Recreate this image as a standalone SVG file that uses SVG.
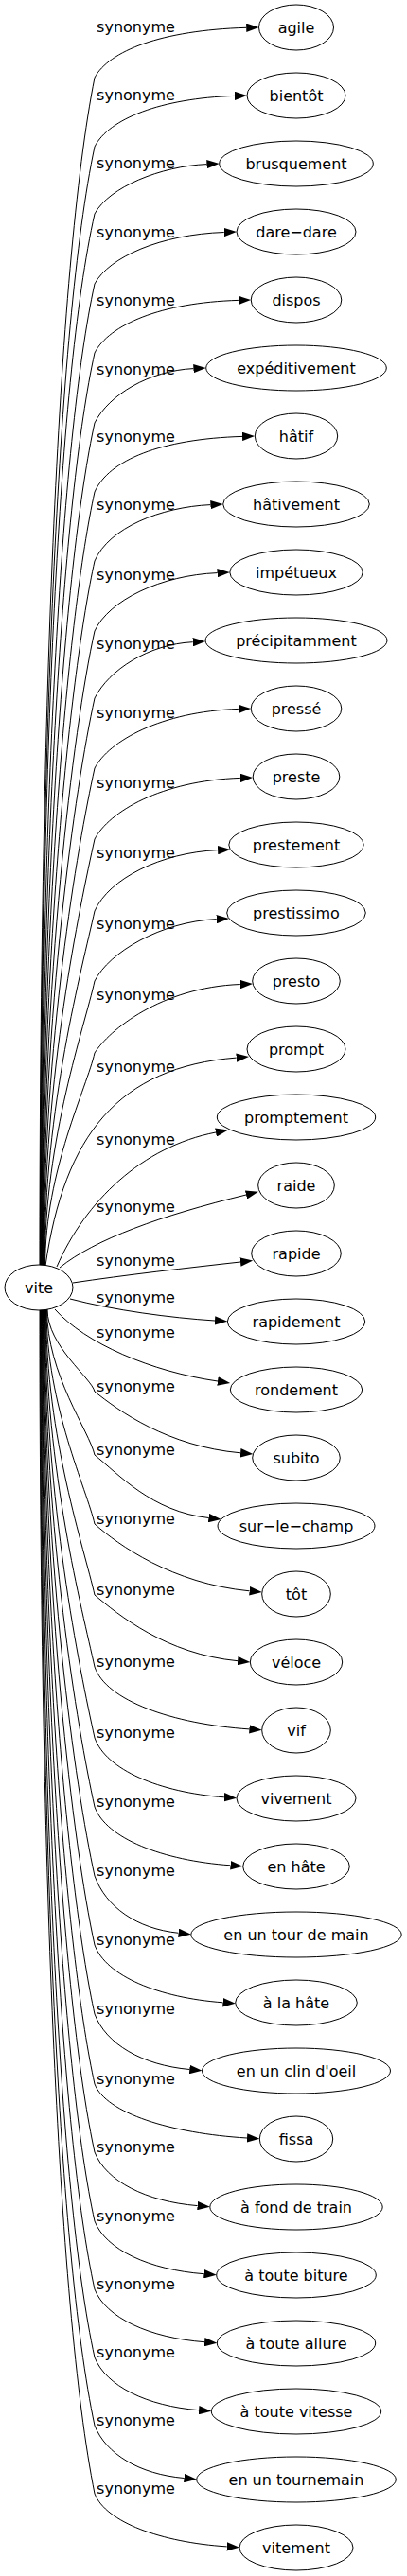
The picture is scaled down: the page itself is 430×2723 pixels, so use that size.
<svg xmlns="http://www.w3.org/2000/svg" width="430" height="2723" viewBox="0 0 430 2723">
<style>
text{font-family:"DejaVu Sans","Liberation Sans",sans-serif;font-size:16px;fill:#000}
.n text{text-anchor:middle}
.n ellipse{fill:#fff;stroke:#000;stroke-width:1}
.e path{fill:none;stroke:#000;stroke-width:1;marker-end:url(#ah)}
.e text{text-anchor:middle}
</style>
<defs>
<marker id="ah" markerUnits="userSpaceOnUse" viewBox="0 0 13.3 9.4" markerWidth="13.3" markerHeight="9.4" refX="0" refY="4.7" orient="auto"><path d="M0,0 L13.3,4.7 L0,9.4 z" fill="#000"/></marker>
</defs>
<rect width="430" height="2723" fill="#fff"/>
<g id="edges">
<g class="e" id="e0"><path d="M42,1338 C42,773 60,283 100,82 C115,54 170,32 260.2,29.3"/><text x="143.5" y="34">synonyme</text></g>
<g class="e" id="e1"><path d="M42.4,1338 C42.4,806 60,344 100,155 C115,125.5 170,104 247.7,101.4"/><text x="143.5" y="106">synonyme</text></g>
<g class="e" id="e2"><path d="M42.8,1338 C42.8,838 60,404 100,226 C115,197.8 170,175.7 218.4,173.6"/><text x="143.5" y="178">synonyme</text></g>
<g class="e" id="e3"><path d="M43.2,1338 C43.2,871 63.7,466 100,300 C115,271.8 170,247.8 236.7,245.5"/><text x="143.5" y="251">synonyme</text></g>
<g class="e" id="e4"><path d="M43.6,1338 C43.6,904 66.2,527 100,373 C115,343.4 170,319.8 251.9,317.4"/><text x="143.5" y="323">synonyme</text></g>
<g class="e" id="e5"><path d="M44,1338 C44,937 68.8,590 100,447 C115,417.2 157.7,391.9 204.4,389.6"/><text x="143.5" y="396">synonyme</text></g>
<g class="e" id="e6"><path d="M44.4,1338 C44.4,970 71.4,651 100,520 C115,486.2 170,464 256,461.4"/><text x="143.5" y="467">synonyme</text></g>
<g class="e" id="e7"><path d="M44.8,1338 C44.8,1003 73.9,712 100,593 C115,557.8 170,536 222.4,533.6"/><text x="143.5" y="539">synonyme</text></g>
<g class="e" id="e8"><path d="M45.2,1338 C45.2,1036 76.5,774 100,667 C115,634.4 170,608.1 229.5,605.6"/><text x="143.5" y="613">synonyme</text></g>
<g class="e" id="e9"><path d="M45.6,1338 C45.6,1068 79,834 100,738 C115,708.1 157,681 203.7,678.7"/><text x="143.5" y="686">synonyme</text></g>
<g class="e" id="e10"><path d="M46,1338 C46,1101 81.6,896 100,812 C115,783.4 170,752.2 251.9,749.4"/><text x="143.5" y="759">synonyme</text></g>
<g class="e" id="e11"><path d="M46.4,1338 C46.4,1135 84.2,959 100,887 C115,858.3 170,825.3 253.9,822.4"/><text x="143.5" y="833">synonyme</text></g>
<g class="e" id="e12"><path d="M46.8,1338 C46.8,1169 86.9,1023 100,963 C115,928.9 170,901.3 230.1,898.6"/><text x="143.5" y="907">synonyme</text></g>
<g class="e" id="e13"><path d="M47.2,1338 C47.2,1203 89.5,1085 100,1037 C115,1006.8 170,974.3 228.7,971.6"/><text x="143.5" y="982">synonyme</text></g>
<g class="e" id="e14"><path d="M47.6,1338 C47.6,1237 92.1,1149 100,1113 C115,1089.2 170,1043.7 253.8,1040.5"/><text x="143.5" y="1057">synonyme</text></g>
<g class="e" id="e15"><path d="M48,1338 C68,1200 125,1128 249.7,1118.1"/><text x="143.5" y="1133">synonyme</text></g>
<g class="e" id="e16"><path d="M60,1339 C90,1270 150,1212 228,1197"/><text x="143.5" y="1210">synonyme</text></g>
<g class="e" id="e17"><path d="M63,1340 C100,1310 170,1285 260,1263"/><text x="143.5" y="1281">synonyme</text></g>
<g class="e" id="e18"><path d="M77,1356 C130,1348 200,1340 254,1334"/><text x="143.5" y="1338">synonyme</text></g>
<g class="e" id="e19"><path d="M74,1373 C120,1385 180,1393 227,1396"/><text x="143.5" y="1377">synonyme</text></g>
<g class="e" id="e20"><path d="M58,1384 C90,1420 160,1450 230,1460"/><text x="143.5" y="1414">synonyme</text></g>
<g class="e" id="e21"><path d="M50,1384 C50,1423 97,1457 100,1471 C125,1491 177,1529 254.1,1535.8"/><text x="143.5" y="1471">synonyme</text></g>
<g class="e" id="e22"><path d="M49.5,1384 C49.5,1453 94.6,1513 100,1538 C125,1558 160.5,1598 220.4,1604.5"/><text x="143.5" y="1538">synonyme</text></g>
<g class="e" id="e23"><path d="M49,1384 C49,1486 92.1,1575 100,1611 C125,1633 181.8,1674 263.6,1681.8"/><text x="143.5" y="1611">synonyme</text></g>
<g class="e" id="e24"><path d="M48.5,1384 C48.5,1520 89.4,1638 100,1686 C125,1707 175.5,1748.5 251.1,1755.7"/><text x="143.5" y="1686">synonyme</text></g>
<g class="e" id="e25"><path d="M48,1384 C48,1554 86.8,1701.5 100,1762 C112,1797.5 181.8,1822.3 263.4,1827.9"/><text x="143.5" y="1762">synonyme</text></g>
<g class="e" id="e26"><path d="M47.5,1384 C47.5,1588 84.1,1764.5 100,1837 C112,1870.9 168.4,1894.6 236.8,1899.8"/><text x="143.5" y="1837">synonyme</text></g>
<g class="e" id="e27"><path d="M47,1384 C47,1621 81.6,1826 100,1910 C112,1943.4 171.8,1966.7 243.5,1971.8"/><text x="143.5" y="1910">synonyme</text></g>
<g class="e" id="e28"><path d="M46.5,1384 C46.5,1654 79,1887 100,1983 C112,2015.9 144.3,2038.8 188.6,2043.3"/><text x="143.5" y="1983">synonyme</text></g>
<g class="e" id="e29"><path d="M46,1384 C46,1686 76.5,1948.5 100,2056 C112,2088.9 167.7,2111.8 235.5,2116.8"/><text x="143.5" y="2056">synonyme</text></g>
<g class="e" id="e30"><path d="M45.5,1384 C45.5,1719 73.9,2010 100,2129 C112,2160.8 150.2,2183 200.3,2187.5"/><text x="143.5" y="2129">synonyme</text></g>
<g class="e" id="e31"><path d="M45,1384 C45,1753 71.3,2072 100,2203 C112,2233.7 180.5,2255.2 261,2260"/><text x="143.5" y="2203">synonyme</text></g>
<g class="e" id="e32"><path d="M44.5,1384 C44.5,1785 68.8,2132 100,2275 C112,2305.7 154.3,2327.2 208.6,2331.6"/><text x="143.5" y="2275">synonyme</text></g>
<g class="e" id="e33"><path d="M44,1384 C44,1818 66.3,2194 100,2348 C112,2378.2 157.7,2399.3 215.5,2403.7"/><text x="143.5" y="2348">synonyme</text></g>
<g class="e" id="e34"><path d="M43.5,1384 C43.5,1850 63.7,2254 100,2420 C112,2450.2 158,2471.3 216.1,2475.7"/><text x="143.5" y="2420">synonyme</text></g>
<g class="e" id="e35"><path d="M43,1384 C43,1883 61.2,2315 100,2492 C112,2522.2 155,2543.3 210.1,2547.7"/><text x="143.5" y="2492">synonyme</text></g>
<g class="e" id="e36"><path d="M42.5,1384 C42.5,1915 60,2375 100,2564 C112,2594.2 147.2,2615.3 194.5,2619.5"/><text x="143.5" y="2564">synonyme</text></g>
<g class="e" id="e37"><path d="M42,1384 C42,1947 60,2436 100,2636 C112,2666.2 169.8,2687.3 239.7,2691.9"/><text x="143.5" y="2636">synonyme</text></g>
</g>
<g class="n" id="vite"><ellipse cx="41" cy="1361" rx="36" ry="24"/><text x="41" y="1366.5">vite</text></g>
<g class="n" id="agile"><ellipse cx="313" cy="29" rx="39.5" ry="24"/><text x="313" y="34.5">agile</text></g>
<g class="n" id="bientot"><ellipse cx="313" cy="101" rx="52" ry="24"/><text x="313" y="106.5">bientôt</text></g>
<g class="n" id="brusquement"><ellipse cx="313" cy="173" rx="81.3" ry="24"/><text x="313" y="178.5">brusquement</text></g>
<g class="n" id="dare-dare"><ellipse cx="313" cy="245" rx="63" ry="24"/><text x="313" y="250.5">dare−dare</text></g>
<g class="n" id="dispos"><ellipse cx="313" cy="317" rx="47.8" ry="24"/><text x="313" y="322.5">dispos</text></g>
<g class="n" id="expeditivement"><ellipse cx="313" cy="389" rx="95.3" ry="24"/><text x="313" y="394.5">expéditivement</text></g>
<g class="n" id="hatif"><ellipse cx="313" cy="461" rx="43.7" ry="24"/><text x="313" y="466.5">hâtif</text></g>
<g class="n" id="hativement"><ellipse cx="313" cy="533" rx="77.3" ry="24"/><text x="313" y="538.5">hâtivement</text></g>
<g class="n" id="impetueux"><ellipse cx="313" cy="605" rx="70.2" ry="24"/><text x="313" y="610.5">impétueux</text></g>
<g class="n" id="precipitamment"><ellipse cx="313" cy="677" rx="96" ry="24"/><text x="313" y="682.5">précipitamment</text></g>
<g class="n" id="presse"><ellipse cx="313" cy="749" rx="47.8" ry="24"/><text x="313" y="754.5">pressé</text></g>
<g class="n" id="preste"><ellipse cx="313" cy="821" rx="45.8" ry="24"/><text x="313" y="826.5">preste</text></g>
<g class="n" id="prestement"><ellipse cx="313" cy="893" rx="71.2" ry="24"/><text x="313" y="898.5">prestement</text></g>
<g class="n" id="prestissimo"><ellipse cx="313" cy="965" rx="73.3" ry="24"/><text x="313" y="970.5">prestissimo</text></g>
<g class="n" id="presto"><ellipse cx="313" cy="1037" rx="46.3" ry="24"/><text x="313" y="1042.5">presto</text></g>
<g class="n" id="prompt"><ellipse cx="313" cy="1109" rx="52" ry="24"/><text x="313" y="1114.5">prompt</text></g>
<g class="n" id="promptement"><ellipse cx="313" cy="1181" rx="83.7" ry="24"/><text x="313" y="1186.5">promptement</text></g>
<g class="n" id="raide"><ellipse cx="313" cy="1253" rx="40.3" ry="24"/><text x="313" y="1258.5">raide</text></g>
<g class="n" id="rapide"><ellipse cx="313" cy="1325" rx="47.3" ry="24"/><text x="313" y="1330.5">rapide</text></g>
<g class="n" id="rapidement"><ellipse cx="313" cy="1397" rx="72.7" ry="24"/><text x="313" y="1402.5">rapidement</text></g>
<g class="n" id="rondement"><ellipse cx="313" cy="1469" rx="69.7" ry="24"/><text x="313" y="1474.5">rondement</text></g>
<g class="n" id="subito"><ellipse cx="313" cy="1541" rx="46.3" ry="24"/><text x="313" y="1546.5">subito</text></g>
<g class="n" id="sur-le-champ"><ellipse cx="313" cy="1613" rx="83" ry="24"/><text x="313" y="1618.5">sur−le−champ</text></g>
<g class="n" id="tot"><ellipse cx="313" cy="1685" rx="36.3" ry="24"/><text x="313" y="1690.5">tôt</text></g>
<g class="n" id="veloce"><ellipse cx="313" cy="1757" rx="48.7" ry="24"/><text x="313" y="1762.5">véloce</text></g>
<g class="n" id="vif"><ellipse cx="313" cy="1829" rx="36.3" ry="24"/><text x="313" y="1834.5">vif</text></g>
<g class="n" id="vivement"><ellipse cx="313" cy="1901" rx="63" ry="24"/><text x="313" y="1906.5">vivement</text></g>
<g class="n" id="en-hate"><ellipse cx="313" cy="1973" rx="56.3" ry="24"/><text x="313" y="1978.5">en hâte</text></g>
<g class="n" id="en-un-tour-de-main"><ellipse cx="313" cy="2045" rx="111.2" ry="24"/><text x="313" y="2050.5">en un tour de main</text></g>
<g class="n" id="a-la-hate"><ellipse cx="313" cy="2117" rx="64.3" ry="24"/><text x="313" y="2122.5">à la hâte</text></g>
<g class="n" id="en-un-clin-d-oeil"><ellipse cx="313" cy="2189" rx="99.5" ry="24"/><text x="313" y="2194.5">en un clin d'oeil</text></g>
<g class="n" id="fissa"><ellipse cx="313" cy="2261" rx="38.7" ry="24"/><text x="313" y="2266.5">fissa</text></g>
<g class="n" id="a-fond-de-train"><ellipse cx="313" cy="2333" rx="91.2" ry="24"/><text x="313" y="2338.5">à fond de train</text></g>
<g class="n" id="a-toute-biture"><ellipse cx="313" cy="2405" rx="84.3" ry="24"/><text x="313" y="2410.5">à toute biture</text></g>
<g class="n" id="a-toute-allure"><ellipse cx="313" cy="2477" rx="83.7" ry="24"/><text x="313" y="2482.5">à toute allure</text></g>
<g class="n" id="a-toute-vitesse"><ellipse cx="313" cy="2549" rx="89.7" ry="24"/><text x="313" y="2554.5">à toute vitesse</text></g>
<g class="n" id="en-un-tournemain"><ellipse cx="313" cy="2621" rx="105.3" ry="24"/><text x="313" y="2626.5">en un tournemain</text></g>
<g class="n" id="vitement"><ellipse cx="313" cy="2693" rx="60" ry="24"/><text x="313" y="2698.5">vitement</text></g>
</svg>
